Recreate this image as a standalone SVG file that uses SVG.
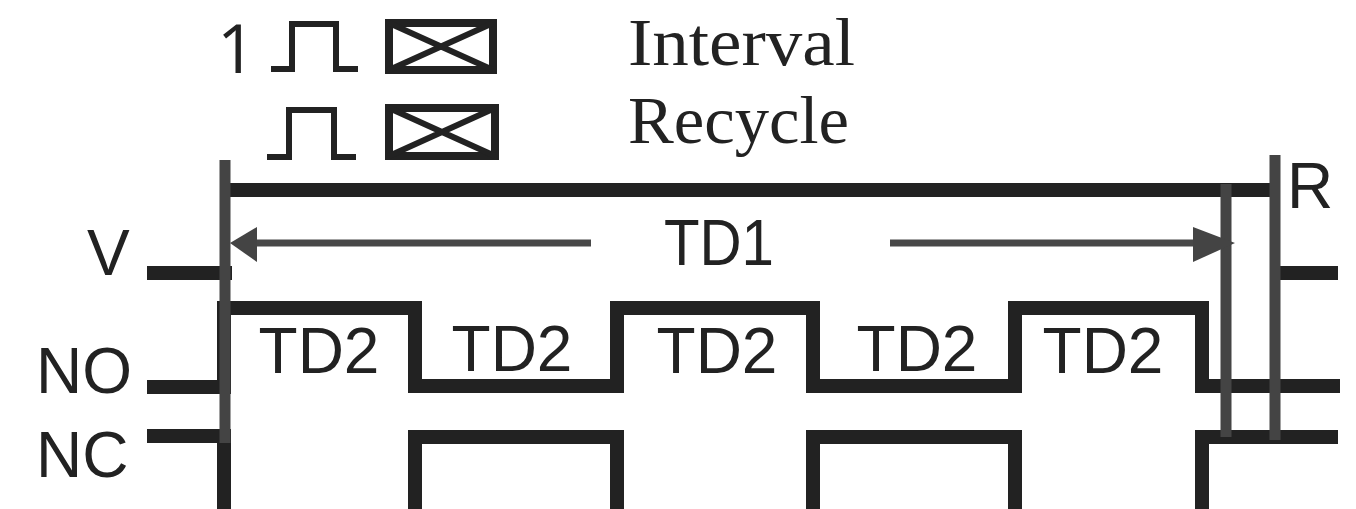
<svg xmlns="http://www.w3.org/2000/svg" width="1356" height="509" viewBox="0 0 1356 509">
<style>
.wave{fill:none;stroke:#222;stroke-width:14;stroke-linejoin:miter}
.pulse{fill:none;stroke:#222;stroke-width:6}
.box{fill:none;stroke:#222;stroke-width:8}
.cross{fill:none;stroke:#222;stroke-width:6}
.mark{fill:none;stroke:#444;stroke-width:11}
.dim{fill:none;stroke:#484848;stroke-width:7}
.head{fill:#444}
text{fill:#222}
.sans{font-family:"Liberation Sans",Arial,sans-serif;font-size:64px}
.one{font-family:"Open Sans","Liberation Sans",sans-serif;font-size:68px}
.serif{font-family:"Liberation Serif","Times New Roman",serif;font-size:67px}
.mid{text-anchor:middle}
</style>
<rect width="1356" height="509" fill="#fff"/>
<g id="legend-interval">
<text class="one" x="217" y="73">1</text>
<path class="pulse" d="M271 69H292V24H336V69H358"/>
<rect class="box" x="389" y="23" width="104" height="47"/>
<path class="cross" d="M389 23L493 70M493 23L389 70"/>
<text class="serif" x="628" y="65" textLength="227" lengthAdjust="spacingAndGlyphs">Interval</text>
</g>
<g id="legend-recycle">
<path class="pulse" d="M267 157H289V110H334V157H356"/>
<rect class="box" x="389" y="108" width="106" height="48"/>
<path class="cross" d="M389 108L495 156M495 108L389 156"/>
<text class="serif" x="628" y="143" textLength="221" lengthAdjust="spacingAndGlyphs">Recycle</text>
</g>
<g id="connectors">
<path class="wave" d="M225 190H1275"/>
<path class="wave" d="M147 273H232"/>
<path class="wave" d="M1280 273H1338"/>
<path class="wave" d="M147 387H224V308H415V386H617V308H813V386H1015V308H1202V386H1340"/>
<path class="wave" d="M147 436H224V516H415V437H617V516H813V437H1015V516H1202V437H1338"/>
<path class="mark" d="M225 160V443"/>
<path class="mark" d="M1226 184V437"/>
<path class="mark" d="M1275 155V440"/>
<path class="dim" d="M250 243H591"/>
<path class="dim" d="M890 243H1200"/>
<polygon class="head" points="230,243 257,227 257,262"/>
<polygon class="head" points="1235,243 1193,227 1193,262"/>
</g>
<g id="labels">
<text class="sans" x="87" y="275">V</text>
<text class="sans" x="36" y="393">NO</text>
<text class="sans" x="36" y="477">NC</text>
<text class="sans" x="1287" y="208">R</text>
<text class="sans" x="664" y="265" textLength="110" lengthAdjust="spacingAndGlyphs">TD1</text>
<text class="sans mid" x="319" y="373">TD2</text>
<text class="sans mid" x="512" y="371">TD2</text>
<text class="sans mid" x="717" y="373">TD2</text>
<text class="sans mid" x="917" y="371">TD2</text>
<text class="sans mid" x="1103" y="373">TD2</text>
</g>
</svg>
